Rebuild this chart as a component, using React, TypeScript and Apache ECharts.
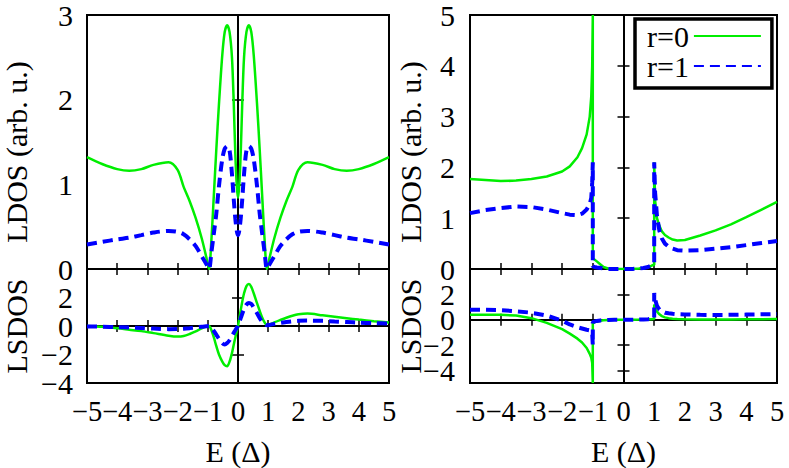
import React, { useEffect, useRef } from 'react';
import * as echarts from 'echarts';

// Energy grid (in units of Δ) for the left panels
const E_LEFT = [-5, -4.5, -4, -3.6, -3.2, -2.8, -2.3, -2.0, -1.8, -1.6, -1.4, -1.2, -1.05, -0.96, -0.88, -0.8, -0.72, -0.63, -0.52, -0.44, -0.36, -0.28, -0.2, -0.14, -0.09, -0.04, 0, 0.04, 0.09, 0.14, 0.2, 0.28, 0.36, 0.44, 0.52, 0.63, 0.72, 0.8, 0.88, 0.96, 1.05, 1.2, 1.4, 1.6, 1.8, 2.0, 2.3, 2.8, 3.2, 3.6, 4.0, 4.5, 5];

const LDOS_LEFT_R0 = [1.32, 1.24, 1.18, 1.16, 1.18, 1.23, 1.26, 1.17, 0.97, 0.8, 0.6, 0.36, 0.14, 0.0, 0.35, 0.87, 1.4, 1.95, 2.53, 2.8, 2.88, 2.8, 2.5, 1.95, 1.37, 0.98, 0.84, 0.98, 1.37, 1.95, 2.5, 2.8, 2.88, 2.8, 2.53, 1.95, 1.4, 0.87, 0.35, 0.0, 0.14, 0.36, 0.6, 0.8, 0.97, 1.17, 1.26, 1.23, 1.18, 1.16, 1.18, 1.24, 1.32];
const LDOS_LEFT_R1 = [0.29, 0.32, 0.35, 0.37, 0.4, 0.43, 0.45, 0.44, 0.41, 0.35, 0.27, 0.15, 0.06, 0.0, 0.2, 0.42, 0.65, 0.98, 1.3, 1.42, 1.45, 1.4, 1.12, 0.82, 0.6, 0.45, 0.4, 0.45, 0.6, 0.82, 1.12, 1.4, 1.45, 1.42, 1.3, 0.98, 0.65, 0.42, 0.2, 0.0, 0.06, 0.15, 0.27, 0.35, 0.41, 0.44, 0.45, 0.43, 0.4, 0.37, 0.35, 0.32, 0.29];
const LSDOS_LEFT_R0 = [0.0, -0.06, -0.16, -0.26, -0.36, -0.5, -0.68, -0.74, -0.7, -0.56, -0.38, -0.16, -0.04, 0.0, -0.3, -0.8, -1.4, -2.0, -2.5, -2.75, -2.82, -2.5, -1.9, -1.3, -0.82, -0.35, 0.0, 0.5, 1.1, 1.7, 2.3, 2.8, 2.94, 2.75, 2.3, 1.6, 1.05, 0.6, 0.25, 0.05, 0.1, 0.25, 0.42, 0.58, 0.72, 0.82, 0.87, 0.75, 0.65, 0.55, 0.45, 0.34, 0.24];
const LSDOS_LEFT_R1 = [-0.03, -0.05, -0.08, -0.11, -0.14, -0.18, -0.22, -0.21, -0.19, -0.15, -0.1, -0.05, -0.02, 0.0, -0.15, -0.35, -0.6, -0.9, -1.2, -1.3, -1.2, -1.0, -0.7, -0.48, -0.3, -0.12, 0.0, 0.25, 0.55, 0.85, 1.2, 1.5, 1.62, 1.55, 1.3, 0.9, 0.55, 0.3, 0.12, 0.05, 0.08, 0.15, 0.22, 0.28, 0.33, 0.36, 0.38, 0.36, 0.32, 0.28, 0.24, 0.2, 0.17];

// Energy grid for the right panels (repeated values mark the vertical jumps at the gap edges)
const E_RIGHT = [-5, -4.5, -4, -3.5, -3, -2.5, -2, -1.75, -1.5, -1.35, -1.2, -1.1, -1.05, -1.02, -1.0, -1.0, -0.95, -0.87, -0.75, -0.65, -0.5, -0.3, 0, 0.3, 0.5, 0.65, 0.8, 0.9, 0.97, 1.0, 1.0, 1.03, 1.09, 1.17, 1.25, 1.35, 1.47, 1.6, 1.75, 2.0, 2.5, 3.0, 3.5, 4.0, 4.5, 5];

const LDOS_RIGHT_R0 = [1.77, 1.75, 1.73, 1.74, 1.77, 1.82, 1.92, 2.02, 2.2, 2.38, 2.65, 3.0, 3.4, 4.0, 5.0, 0.2, 0.19, 0.15, 0.09, 0.04, 0.01, 0.0, 0.0, 0.0, 0.01, 0.02, 0.04, 0.06, 0.08, 0.08, 2.1, 1.35, 1.0, 0.85, 0.74, 0.67, 0.62, 0.58, 0.56, 0.57, 0.66, 0.76, 0.88, 1.02, 1.17, 1.32];
const LDOS_RIGHT_R1 = [1.1, 1.16, 1.2, 1.23, 1.22, 1.17, 1.1, 1.07, 1.06, 1.09, 1.17, 1.28, 1.4, 1.7, 2.1, 0.05, 0.04, 0.03, 0.02, 0.01, 0.0, 0.0, 0.0, 0.0, 0.01, 0.02, 0.04, 0.07, 0.1, 0.12, 2.1, 1.5, 1.05, 0.75, 0.6, 0.5, 0.44, 0.4, 0.37, 0.36, 0.37, 0.4, 0.43, 0.47, 0.51, 0.55];
const LSDOS_RIGHT_R0 = [0.39, 0.39, 0.38, 0.33, 0.12, -0.25, -0.75, -1.1, -1.5, -1.8, -2.24, -2.7, -3.0, -3.4, -5.0, -0.3, -0.22, -0.14, -0.08, -0.05, -0.02, 0.0, 0.0, 0.0, 0.01, 0.02, 0.03, 0.04, 0.05, 0.05, 1.2, 0.95, 0.65, 0.42, 0.28, 0.18, 0.12, 0.08, 0.05, 0.03, 0.02, 0.02, 0.02, 0.03, 0.04, 0.05];
const LSDOS_RIGHT_R1 = [0.79, 0.78, 0.75, 0.66, 0.55, 0.32, -0.08, -0.38, -0.6, -0.7, -0.8, -0.85, -0.9, -1.1, -2.0, -0.2, -0.15, -0.1, -0.06, -0.04, -0.02, 0.0, 0.0, 0.0, 0.01, 0.02, 0.04, 0.06, 0.08, 0.1, 2.1, 1.6, 1.1, 0.8, 0.65, 0.55, 0.5, 0.46, 0.43, 0.41, 0.38, 0.37, 0.38, 0.4, 0.42, 0.45];

const SERIES_NAMES = ['r=0', 'r=1'];
const X_TITLE = 'E (Δ)';
const Y_TITLE_TOP = 'LDOS (arb. u.)';
const Y_TITLE_BOTTOM = 'LSDOS';
const LSDOS_TICKS = [-4, -2, 0, 2, 4];
// LSDOS tick labels, split over two label rows of the same axis so ECharts does not drop any
const LSDOS_LABELS_A = [-4, 0];
const LSDOS_LABELS_B = [-2, 2];

const FONT = "'Liberation Serif', 'Times New Roman', Times, serif";
const GREEN = '#00ee00';
const BLUE = '#0000ff';

const fmt = (v: number) => String(v).replace('-', '\u2212');
const pairs = (xs: number[], ys: number[]) => xs.map((x, i) => [x, ys[i]]);

const tickStyle = { show: true, inside: true, length: 6, lineStyle: { color: '#000', width: 1.5 } };
const labelBase = { fontFamily: FONT, fontSize: 30, color: '#000' };

function makeX(gridIndex: number, position: string, showLabels: boolean) {
  return {
    type: 'value', gridIndex, position, min: -5, max: 5, interval: 1,
    axisLine: { show: false }, axisTick: tickStyle, splitLine: { show: false },
    axisLabel: { show: showLabels, formatter: fmt, margin: 14, showMinLabel: true, showMaxLabel: true, hideOverlap: false, ...labelBase, fontSize: 28.5 },
    name: showLabels ? X_TITLE : '', nameLocation: 'middle', nameGap: 53, nameMoveOverlap: false,
    nameTextStyle: { ...labelBase },
  };
}

function makeY(gridIndex: number, position: string, min: number, max: number, opts: any) {
  const ax: any = {
    type: 'value', gridIndex, position, min, max, offset: 0,
    axisLine: { show: false }, splitLine: { show: false },
    axisTick: opts.noTicks ? { show: false } : { ...tickStyle },
    axisLabel: { show: !!opts.labels, formatter: fmt, margin: opts.margin || 14, showMinLabel: true, showMaxLabel: true, hideOverlap: false, ...labelBase, lineHeight: 22 },
    name: opts.name || '', nameLocation: 'middle', nameGap: opts.nameGap || 50, nameMoveOverlap: false,
    nameTextStyle: { ...labelBase, padding: opts.namePad || 0 },
  };
  if (opts.interval) ax.interval = opts.interval;
  if (opts.tickValues && !opts.noTicks) ax.axisTick.customValues = opts.tickValues;
  if (opts.labelValues) ax.axisLabel.customValues = opts.labelValues;
  return ax;
}

function makeLine(name: string, gi: number, xs: number[], ys: number[], color: string, dashed: boolean, smooth: number, zeroLines?: any[]) {
  const s: any = {
    type: 'line', name, xAxisIndex: 2 * gi, yAxisIndex: 2 * gi,
    data: pairs(xs, ys), symbol: 'none', showSymbol: false, clip: true, z: 3,
    smooth,
    lineStyle: { color, width: dashed ? 4 : 2.5, type: dashed ? [10, 6] : 'solid' },
    itemStyle: { color },
  };
  if (zeroLines) {
    s.markLine = {
      silent: true, symbol: 'none', z: 1, animation: false,
      label: { show: false },
      lineStyle: { color: '#000', width: 2, type: 'solid' },
      emphasis: { disabled: true },
      data: zeroLines,
    };
  }
  return s;
}

export default function App() {
  const ref = useRef<HTMLDivElement>(null);
  useEffect(() => {
    if (!ref.current) return;
    const chart = echarts.init(ref.current, undefined, { renderer: 'svg' });
    const gridBase = { show: true, borderColor: '#000', borderWidth: 2, backgroundColor: 'transparent', containLabel: false };
    const option: any = {
      animation: false,
      textStyle: { fontFamily: FONT },
      grid: [
        { ...gridBase, left: 83, top: 9, width: 306, height: 260 },
        { ...gridBase, left: 83, top: 269, width: 306, height: 114 },
        { ...gridBase, left: 470, top: 9, width: 307, height: 260 },
        { ...gridBase, left: 470, top: 269, width: 307, height: 114 },
      ],
      xAxis: [
        makeX(0, 'bottom', false), makeX(0, 'top', false),
        makeX(1, 'bottom', true), makeX(1, 'top', false),
        makeX(2, 'bottom', false), makeX(2, 'top', false),
        makeX(3, 'bottom', true), makeX(3, 'top', false),
      ],
      yAxis: [
        makeY(0, 'left', 0, 3, { interval: 1, labels: true, name: Y_TITLE_TOP, nameGap: 56, namePad: [0, 20, 0, 0] }),
        makeY(0, 'right', 0, 3, { interval: 1 }),
        makeY(1, 'left', -4, 4, { tickValues: LSDOS_TICKS, labelValues: LSDOS_LABELS_A, labels: true, name: Y_TITLE_BOTTOM, nameGap: 56 }),
        makeY(1, 'right', -4, 4, { tickValues: LSDOS_TICKS }),
        makeY(2, 'left', 0, 5, { interval: 1, labels: true, name: Y_TITLE_TOP, nameGap: 45, margin: 15, namePad: [0, 20, 0, 0] }),
        makeY(2, 'right', 0, 5, { interval: 1 }),
        makeY(3, 'left', -5, 4, { tickValues: LSDOS_TICKS, labelValues: LSDOS_LABELS_A, labels: true, name: Y_TITLE_BOTTOM, nameGap: 45, margin: 15 }),
        makeY(3, 'right', -5, 4, { tickValues: LSDOS_TICKS }),
        makeY(1, 'left', -4, 4, { noTicks: true, labelValues: LSDOS_LABELS_B, labels: true }),
        makeY(3, 'left', -5, 4, { noTicks: true, labelValues: LSDOS_LABELS_B, labels: true, margin: 15 }),
      ],
      legend: {
        data: SERIES_NAMES,
        orient: 'vertical',
        left: 635, top: 19,
        align: 'right',
        itemWidth: 67, itemHeight: 28.5, itemGap: 0,
        padding: [2, 10, 7, 12],
        borderColor: '#000', borderWidth: 3.5,
        backgroundColor: '#fff',
        selectedMode: false,
        itemStyle: { opacity: 0 },
        textStyle: { ...labelBase, lineHeight: 28.5 },
      },
      series: [
        makeLine(SERIES_NAMES[0], 0, E_LEFT, LDOS_LEFT_R0, GREEN, false, 0.3, [{ xAxis: 0 }]),
        makeLine(SERIES_NAMES[1], 0, E_LEFT, LDOS_LEFT_R1, BLUE, true, 0.3),
        makeLine(SERIES_NAMES[0], 1, E_LEFT, LSDOS_LEFT_R0, GREEN, false, 0.3, [{ xAxis: 0 }, { yAxis: 0 }]),
        makeLine(SERIES_NAMES[1], 1, E_LEFT, LSDOS_LEFT_R1, BLUE, true, 0.3),
        makeLine(SERIES_NAMES[0], 2, E_RIGHT, LDOS_RIGHT_R0, GREEN, false, 0, [{ xAxis: 0 }]),
        makeLine(SERIES_NAMES[1], 2, E_RIGHT, LDOS_RIGHT_R1, BLUE, true, 0),
        makeLine(SERIES_NAMES[0], 3, E_RIGHT, LSDOS_RIGHT_R0, GREEN, false, 0, [{ xAxis: 0 }, { yAxis: 0 }]),
        makeLine(SERIES_NAMES[1], 3, E_RIGHT, LSDOS_RIGHT_R1, BLUE, true, 0),
      ],
    };
    chart.setOption(option);
    return () => chart.dispose();
  }, []);
  return <div ref={ref} style={{ position: 'fixed', left: 0, top: 0, width: 789, height: 468, background: '#fff' }} />;
}
